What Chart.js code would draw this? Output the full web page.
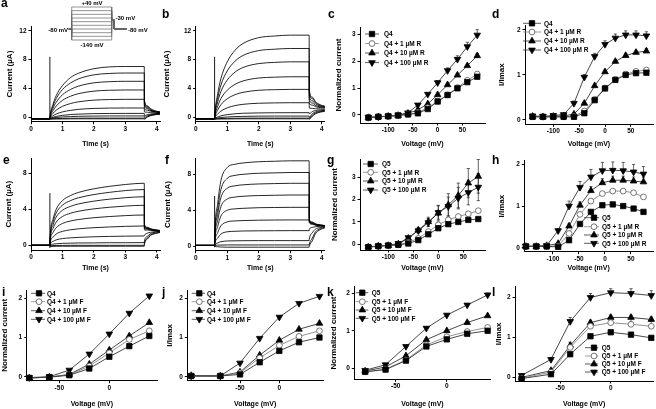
<!DOCTYPE html>
<html>
<head>
<meta charset="utf-8">
<script src="https://cdn.jsdelivr.net/npm/chart.js@4.4.1/dist/chart.umd.min.js"></script>
<style>
  body { margin: 0; width: 656px; height: 409px; position: relative; overflow: hidden; background: #fff;
         font-family: 'Liberation Sans', Arial, sans-serif; }
  canvas { position: absolute; }
  .lab { position: absolute; font-weight: bold; font-size: 12px; line-height: 12px; }
  .pl { position: absolute; font-weight: bold; font-size: 6px; line-height: 6px; white-space: nowrap; }
</style>
</head>
<body>
<script>
// ---- current traces (µA), sampled at these times (s) ----
const tTrace = [0, 0.6, 0.605, 0.7, 0.8, 1.0, 1.25, 1.5, 2.0, 2.5, 3.0, 3.6, 3.605, 3.7, 3.8, 3.95, 4.1];

// a: Q4
const a1 = [-0.2,-0.2,0.1,1.8,3.0,4.4,5.5,6.1,6.75,7.0,7.05,7.05, 2.4,1.6,1.2,0.9,0.75];
const a2 = [-0.2,-0.2,0.05,1.58,2.59,3.86,4.75,5.32,5.9,6.09,6.15,6.15, 2.2,1.5,1.1,0.85,0.72];
const a3 = [-0.2,-0.2,0.01,1.26,2.09,3.13,3.86,4.32,4.79,4.95,5.0,5.0, 1.9,1.35,1.0,0.8,0.7];
const a4 = [-0.2,-0.2,-0.04,0.92,1.56,2.36,2.92,3.28,3.64,3.76,3.8,3.8, 1.6,1.2,0.95,0.78,0.68];
const a5 = [-0.2,-0.2,-0.09,0.56,0.99,1.53,1.91,2.15,2.39,2.47,2.5,2.5, 1.2,1.0,0.85,0.72,0.65];
const a6 = [-0.2,-0.2,-0.14,0.22,0.46,0.76,0.97,1.11,1.24,1.29,1.3,1.3, 0.75,0.72,0.66,0.62,0.6];
const a7 = [-0.2,-0.2,-0.17,0.01,0.13,0.28,0.39,0.45,0.52,0.54,0.55,0.55, 0.25,0.38,0.46,0.52,0.55];
const a8 = [-0.2,-0.2,-0.18,-0.09,-0.02,0.06,0.11,0.15,0.18,0.2,0.2,0.2, 0.0,0.22,0.36,0.45,0.5];
const a9 = [-0.2,-0.2,-0.2,-0.17,-0.16,-0.14,-0.12,-0.11,-0.1,-0.1,-0.1,-0.1, -0.15,0.1,0.28,0.4,0.47];
const a10 = [-0.2,-0.2,-0.25,-0.24,-0.23,-0.22,-0.21,-0.2,-0.2,-0.2,-0.2,-0.2, -0.25,0.05,0.24,0.37,0.44];

// b: Q4 + 100 µM R
const b1 = [-0.2,-0.2,0.26,3.28,5.37,7.69,9.31,10.24,11.05,11.28,11.4,11.4, 3.8,2.8,2.2,1.75,1.55];
const b2 = [-0.2,-0.2,0.19,2.73,4.48,6.43,7.8,8.58,9.26,9.45,9.55,9.55, 3.5,2.6,2.05,1.65,1.5];
const b3 = [-0.2,-0.2,0.12,2.17,3.59,5.17,6.28,6.91,7.46,7.62,7.7,7.7, 3.0,2.3,1.85,1.55,1.45];
const b4 = [-0.2,-0.2,0.03,1.55,2.6,3.76,4.58,5.05,5.46,5.57,5.63,5.63, 2.5,2.0,1.65,1.45,1.38];
const b5 = [-0.2,-0.2,-0.04,1.02,1.76,2.57,3.15,3.47,3.76,3.84,3.88,3.88, 2.0,1.7,1.5,1.35,1.3];
const b6 = [-0.2,-0.2,-0.11,0.47,0.87,1.32,1.63,1.81,1.96,2.01,2.03,2.03, 1.3,1.25,1.2,1.17,1.15];
const b7 = [-0.2,-0.2,-0.17,0.06,0.21,0.38,0.5,0.57,0.62,0.64,0.65,0.65, 0.5,0.8,0.95,1.02,1.05];
const b8 = [-0.2,-0.2,-0.18,-0.09,-0.02,0.06,0.11,0.14,0.17,0.18,0.18,0.18, 0.0,0.5,0.75,0.9,0.97];
const b9 = [-0.2,-0.2,-0.2,-0.17,-0.16,-0.14,-0.12,-0.11,-0.1,-0.1,-0.1,-0.1, -0.15,0.3,0.6,0.8,0.9];
const b10 = [-0.2,-0.2,-0.25,-0.24,-0.23,-0.22,-0.21,-0.2,-0.2,-0.2,-0.2,-0.2, -0.25,0.15,0.5,0.72,0.85];

// e: Q5
const e1 = [0,0,0.69,2.9,4.0,4.97,5.52,5.87,6.28,6.56,6.76,6.9, 2.3,2.0,1.85,1.72,1.65];
const e2 = [0,0,0.62,2.6,3.6,4.46,4.96,5.27,5.64,5.89,6.08,6.2, 2.2,1.95,1.8,1.7,1.64];
const e3 = [0,0,0.54,2.27,3.13,3.89,4.32,4.59,4.91,5.13,5.29,5.4, 2.1,1.9,1.78,1.68,1.63];
const e4 = [0,0,0.45,1.87,2.58,3.2,3.56,3.78,4.05,4.23,4.36,4.45, 2.0,1.85,1.75,1.67,1.62];
const e5 = [0,0,0.34,1.42,1.95,2.43,2.7,2.86,3.07,3.2,3.3,3.37, 1.9,1.8,1.72,1.65,1.61];
const e6 = [0,0,0.22,0.9,1.25,1.55,1.72,1.83,1.96,2.04,2.11,2.15, 1.7,1.7,1.66,1.62,1.6];
const e7 = [0,0,0.1,0.44,0.6,0.75,0.83,0.88,0.95,0.99,1.02,1.04, 1.1,1.35,1.45,1.52,1.56];
const e8 = [0,0,0.03,0.13,0.17,0.22,0.24,0.26,0.27,0.29,0.29,0.3, 0.5,1.0,1.3,1.45,1.52];
const e9 = [0,0,-0.05,-0.03,-0.02,-0.01,0,0,0,0,0,0, 0.2,0.8,1.15,1.36,1.46];
const e10 = [0,0,-0.15,-0.12,-0.11,-0.1,-0.1,-0.1,-0.1,-0.1,-0.1,-0.1, 0.1,0.7,1.1,1.3,1.43];

// f: Q5 + 100 µM R
const f1 = [0.1,0.1,1.05,4.8,7.3,8.75,9.12,9.26,9.4,9.45,9.5,9.5, 3.0,2.7,2.5,2.37,2.3];
const f2 = [0.1,0.1,0.9,4.15,6.3,7.55,7.88,8.0,8.12,8.16,8.2,8.2, 2.9,2.65,2.47,2.36,2.3];
const f3 = [0.1,0.1,0.79,3.55,5.41,6.45,6.72,6.83,6.93,6.97,7.0,7.0, 2.85,2.6,2.45,2.35,2.29];
const f4 = [0.1,0.1,0.66,2.9,4.41,5.25,5.47,5.56,5.64,5.67,5.7,5.7, 2.8,2.55,2.42,2.32,2.28];
const f5 = [0.1,0.1,0.52,2.22,3.36,4.0,4.16,4.22,4.29,4.31,4.33,4.33, 2.7,2.5,2.38,2.3,2.26];
const f6 = [0.1,0.1,0.37,1.52,2.28,2.71,2.82,2.86,2.9,2.92,2.93,2.93, 2.6,2.45,2.35,2.28,2.25];
const f7 = [0.1,0.1,0.26,0.92,1.36,1.61,1.67,1.7,1.72,1.73,1.74,1.74, 1.9,2.1,2.18,2.22,2.22];
const f8 = [0.1,0.1,0.15,0.37,0.51,0.59,0.61,0.62,0.63,0.63,0.63,0.63, 0.8,1.5,1.9,2.08,2.15];
const f9 = [0.1,0.1,0.1,0.13,0.14,0.15,0.15,0.15,0.15,0.15,0.15,0.15, 0.25,0.9,1.6,1.95,2.1];
const f10 = [0.1,0.1,0.0,-0.05,-0.08,-0.1,-0.1,-0.1,-0.1,-0.1,-0.1,-0.1, 0.0,0.6,1.4,1.85,2.05];

// capacitive transients at the step (time, current)
const spikeT = [0.6, 0.6];
const spikeA = [-0.3, 8.4];
const spikeB = [-0.3, 8.4];
const spikeE = [-0.3, 5.8];
const spikeF = [-0.1, 5.6];

// voltage protocol (inset): times (s) and step levels (mV)
const protoT = [0.37, 0.6, 0.6, 3.6, 3.6, 3.77, 3.77, 4.73];
const protoLevels = [-140, -120, -100, -80, -60, -40, -20, 0, 20, 40];
const protoHold = -80, protoTail = -30;

// ---- I-V data ----
const vQ4R = [-140,-120,-100,-80,-60,-40,-20,0,20,40,60,80];
const cQ4 = [-0.1,-0.07,-0.05,-0.02,0.02,0.06,0.22,0.5,0.74,0.99,1.22,1.42];
const cR1 = [-0.1,-0.07,-0.05,-0.02,0.02,0.09,0.27,0.51,0.75,1.02,1.29,1.52];
const cR10 = [-0.1,-0.07,-0.05,-0.02,0.06,0.19,0.41,0.75,1.12,1.48,1.83,2.2];
const cR100 = [-0.09,-0.07,-0.04,0,0.08,0.37,0.77,1.2,1.65,2.07,2.54,2.97];
const cR10Err = [0,0,0,0,0,0,0.03,0.04,0.05,0.06,0.06,0.08];
const cR100Err = [0,0,0,0,0,0.03,0.05,0.08,0.1,0.13,0.16,0.2];

const dQ4 = [0.07,0.07,0.07,0.07,0.07,0.15,0.44,0.7,0.89,1.0,1.04,1.05];
const dR1 = [0.07,0.07,0.07,0.07,0.08,0.2,0.46,0.71,0.9,1.02,1.08,1.11];
const dR10 = [0.08,0.07,0.08,0.09,0.13,0.37,0.76,1.07,1.3,1.43,1.5,1.53];
const dR100 = [0.09,0.08,0.1,0.12,0.37,0.95,1.41,1.68,1.82,1.89,1.89,1.87];
const dR10Err = [0,0,0,0,0,0.03,0.03,0.04,0.04,0.05,0.05,0.06];
const dR100Err = [0,0,0,0.03,0.05,0.06,0.07,0.08,0.09,0.09,0.09,0.09];

const vQ5R = [-140,-120,-100,-80,-60,-40,-20,0,20,40,60,80];
const gQ5 = [-0.12,-0.08,-0.05,-0.02,0.04,0.19,0.45,0.72,0.9,1.0,1.09,1.13];
const gR1 = [-0.12,-0.08,-0.05,-0.02,0.09,0.27,0.57,0.87,1.09,1.24,1.36,1.5];
const gR10 = [-0.12,-0.07,-0.05,0.02,0.27,0.64,1.01,1.39,1.76,2.18,2.73,3.03];
const gR100 = [-0.12,-0.07,-0.04,0.04,0.3,0.61,0.97,1.42,1.69,2.06,2.31,2.55];
const gR1Err = [0,0,0,0,0.03,0.04,0.05,0.06,0.06,0.07,0.07,0.08];
const gR10Err = [0.02,0.02,0.02,0.03,0.06,0.1,0.2,0.35,0.5,0.55,0.65,0.75];
const gR100Err = [0.02,0.02,0.02,0.03,0.05,0.1,0.18,0.3,0.42,0.48,0.55,0.6];

const vH = [-152,-132,-112,-90,-69,-48,-27,-5,15,35,55,74];
const hQ5 = [0.03,0.03,0.03,0.02,0.18,0.57,0.86,1.02,1.04,1.0,0.94,0.86];
const hR1 = [0.03,0.03,0.04,0.04,0.34,0.8,1.12,1.3,1.36,1.36,1.32,1.22];
const hR10 = [0.03,0.03,0.05,0.1,0.52,1.02,1.37,1.56,1.62,1.62,1.6,1.58];
const hR100 = [0.04,0.04,0.05,0.41,1.0,1.45,1.7,1.85,1.86,1.85,1.82,1.77];
const hR10Err = [0,0,0,0,0.05,0.08,0.1,0.1,0.1,0.1,0.1,0.1];
const hR100Err = [0,0,0,0.05,0.12,0.14,0.18,0.2,0.2,0.2,0.18,0.18];

const vF = [-80,-60,-40,-20,0,20,40];
const iQ4 = [-0.03,-0.01,0.04,0.21,0.51,0.78,1.04];
const iF1 = [-0.03,-0.01,0.05,0.27,0.61,0.95,1.17];
const iF10 = [-0.03,-0.01,0.06,0.32,0.68,1.04,1.38];
const iF100 = [-0.02,0.0,0.17,0.58,1.09,1.62,2.06];

const vJ = [-112,-75,-50,-25,0,25,51];
const jQ4 = [0.02,0.02,0.06,0.37,0.66,0.88,1.0];
const jF1 = [0.02,0.02,0.1,0.48,0.8,1.03,1.17];
const jF10 = [0.03,0.02,0.12,0.55,0.93,1.21,1.36];
const jF100 = [0.02,0.02,0.35,0.98,1.52,1.87,2.05];

const kQ5 = [-0.1,-0.04,0.2,0.58,0.77,0.92,1.0];
const kF1 = [-0.1,-0.03,0.22,0.62,0.84,0.98,1.09];
const kF10 = [-0.08,0.03,0.33,0.76,1.0,1.22,1.4];
const kF100 = [-0.06,0.09,0.58,1.07,1.42,1.69,1.96];
const kF100Err = [0,0,0,0.03,0.03,0.04,0.05];

const vL = [-88,-59,-40,-20,0,20,40];
const lQ5 = [-0.03,0.08,0.58,1.03,1.13,1.07,0.99];
const lF1 = [-0.02,0.13,0.75,1.28,1.37,1.33,1.28];
const lF10 = [0.0,0.17,0.8,1.37,1.5,1.5,1.45];
const lF100 = [0.05,0.45,1.4,2.0,2.12,2.1,2.05];
const lF1Err = [0.02,0.03,0.06,0.1,0.15,0.15,0.12];
const lF10Err = [0.02,0.04,0.08,0.06,0.06,0.06,0.06];
const lF100Err = [0.03,0.05,0.1,0.1,0.1,0.12,0.12];

// legend texts and tick values
const legQ4R = ['Q4', 'Q4 + 1 µM R', 'Q4 + 10 µM R', 'Q4 + 100 µM R'];
const legQ5R = ['Q5', 'Q5 + 1 µM R', 'Q5 + 10 µM R', 'Q5 + 100 µM R'];
const legQ4F = ['Q4', 'Q4 + 1 µM F', 'Q4 + 10 µM F', 'Q4 + 100 µM F'];
const legQ5F = ['Q5', 'Q5 + 1 µM F', 'Q5 + 10 µM F', 'Q5 + 100 µM F'];
const tickTime = [0, 1, 2, 3, 4];
const tickCurAB = [0, 4, 8, 12];
const tickCurEF = [0, 4, 8];
const tickV = [-100, -50, 0, 50];
const tickVF = [-50, 0];
const tickNorm3 = [0, 1, 2, 3];
const tickNorm2 = [0, 1, 2];

const FF = "'Liberation Sans', Arial, Helvetica, sans-serif";

// marker looks for control, 1, 10, 100 µM
const MARK = [
  { style: 'rect', r: 3.8, rot: 0, bg: '#000', bc: '#000', line: '#333' },
  { style: 'circle', r: 2.9, rot: 0, bg: '#fff', bc: '#555', line: '#888' },
  { style: 'triangle', r: 3.8, rot: 0, bg: '#000', bc: '#000', line: '#333' },
  { style: 'triangle', r: 3.8, rot: 180, bg: '#000', bc: '#000', line: '#333' }
];

function marker(ctx, st, x, y) {
  ctx.beginPath();
  if (st.style === 'rect') {
    const s = st.r * Math.SQRT1_2;
    ctx.rect(x - s, y - s, 2 * s, 2 * s);
  } else if (st.style === 'circle') {
    ctx.arc(x, y, st.r, 0, Math.PI * 2);
  } else {
    const d = st.rot ? -1 : 1;
    ctx.moveTo(x, y - d * st.r);
    ctx.lineTo(x - st.r * 0.866, y + d * st.r / 2);
    ctx.lineTo(x + st.r * 0.866, y + d * st.r / 2);
    ctx.closePath();
  }
  ctx.fillStyle = st.bg; ctx.fill();
  ctx.strokeStyle = st.bc; ctx.lineWidth = 0.8; ctx.stroke();
}

const boxLegend = {
  id: 'boxLegend',
  afterDatasetsDraw(chart, args, o) {
    if (!o || !o.rows) return;
    const ctx = chart.ctx;
    o.labels.forEach((txt, i) => {
      const y = o.rows[i];
      const st = MARK[i];
      ctx.save();
      ctx.strokeStyle = st.line; ctx.lineWidth = 0.8;
      ctx.beginPath(); ctx.moveTo(o.x0, y); ctx.lineTo(o.x1, y); ctx.stroke();
      marker(ctx, st, o.mx, y);
      ctx.fillStyle = '#000';
      ctx.font = 'bold 6.5px ' + FF;
      ctx.textBaseline = 'middle';
      ctx.fillText(txt, o.tx, y + 0.5);
      ctx.restore();
    });
  }
};

const errBars = {
  id: 'errBars',
  beforeDatasetsDraw(chart, args, o) {
    const ctx = chart.ctx, ys = chart.scales.y;
    chart.data.datasets.forEach((ds, i) => {
      if (!ds.errs) return;
      const meta = chart.getDatasetMeta(i);
      ctx.save();
      ctx.strokeStyle = '#222'; ctx.lineWidth = 0.7;
      meta.data.forEach((pt, j) => {
        const e = ds.errs[j];
        if (!e) return;
        const v = ds.data[j].y;
        const yt = ys.getPixelForValue(v + e);
        const yb = ys.getPixelForValue(v - (o && o.both ? e : 0));
        ctx.beginPath();
        ctx.moveTo(pt.x, yb); ctx.lineTo(pt.x, yt);
        ctx.moveTo(pt.x - 1.6, yt); ctx.lineTo(pt.x + 1.6, yt);
        if (o && o.both) { ctx.moveTo(pt.x - 1.6, yb); ctx.lineTo(pt.x + 1.6, yb); }
        ctx.stroke();
      });
      ctx.restore();
    });
  }
};

function addCanvas(left, top, w, h) {
  const c = document.createElement('canvas');
  c.width = w; c.height = h;
  c.style.left = left + 'px'; c.style.top = top + 'px';
  c.style.width = w + 'px'; c.style.height = h + 'px';
  document.body.appendChild(c);
  return c;
}

function addText(cls, txt, left, top, align) {
  const d = document.createElement('div');
  d.className = cls; d.textContent = txt;
  d.style.left = left + 'px'; d.style.top = top + 'px';
  if (align === 'right') d.style.transform = 'translateX(-100%)';
  if (align === 'center') d.style.transform = 'translateX(-50%)';
  document.body.appendChild(d);
}

function ivSets(xs, series, errs) {
  return series.map((ys, i) => {
    const st = MARK[i];
    return {
      data: xs.map((x, k) => ({ x: x, y: ys[k] })),
      errs: errs ? errs[i] : null,
      borderColor: st.line, borderWidth: 0.9,
      pointStyle: st.style, pointRotation: st.rot, pointRadius: st.r,
      pointBackgroundColor: st.bg, pointBorderColor: st.bc, pointBorderWidth: 0.8,
      clip: false
    };
  });
}

function traceSets(traces, spike) {
  const sets = traces.map(tr => ({
    data: tTrace.map((t, k) => ({ x: t, y: tr[k] })),
    borderColor: '#000', borderWidth: 0.85, pointRadius: 0,
    cubicInterpolationMode: 'monotone'
  }));
  sets.push({
    data: spikeT.map((t, k) => ({ x: t, y: spike[k] })),
    borderColor: '#000', borderWidth: 0.9, pointRadius: 0
  });
  return sets;
}

const YLH = 8 * 1.2, XLH = 7 * 1.2;

function panel(cfg, datasets, legend, errBoth) {
  const cl = Math.floor(cfg.yTitleX - YLH / 2);
  const ct = Math.floor(cfg.t - 6);
  const cr = Math.ceil(cfg.r + 6);
  const cb = Math.ceil(cfg.xTitleY + XLH / 2);
  const cv = addCanvas(cl, ct, cr - cl, cb - ct);
  const yw = cfg.l - cl, xh = cb - cfg.b;
  const tickFont = { family: FF, size: 6.5, weight: 'bold' };
  const grid = { drawOnChartArea: false, drawTicks: true, tickLength: 2.5, color: '#000', lineWidth: 1 };
  const border = { display: true, color: '#000', width: 1 };
  let leg = false;
  if (legend) {
    leg = {
      labels: legend.labels,
      rows: legend.rows.map(y => y - ct),
      x0: legend.x0 - cl, x1: legend.x1 - cl, mx: legend.mx - cl, tx: legend.tx - cl
    };
  }
  new Chart(cv, {
    type: 'line',
    data: { datasets: datasets },
    options: {
      responsive: false, animation: false, devicePixelRatio: 1,
      layout: { autoPadding: false, padding: { top: cfg.t - ct, right: cr - cfg.r, left: 0, bottom: 0 } },
      plugins: {
        legend: { display: false }, tooltip: { enabled: false },
        boxLegend: leg, errBars: { both: !!errBoth }
      },
      scales: {
        x: {
          type: 'linear', min: cfg.xr[0], max: cfg.xr[1],
          afterFit: s => { s.height = xh; },
          afterBuildTicks: s => { s.ticks = cfg.xt.map(v => ({ value: v })); },
          ticks: { font: tickFont, color: '#000', padding: 1, autoSkip: false, maxRotation: 0, callback: v => String(v) },
          grid: grid, border: border,
          title: { display: true, text: cfg.xTitle, color: '#000', font: { family: FF, size: 7, weight: 'bold' },
                   padding: { top: 0, bottom: cb - cfg.xTitleY - XLH / 2 } }
        },
        y: {
          type: 'linear', min: cfg.yr[0], max: cfg.yr[1],
          afterFit: s => { s.width = yw; },
          afterBuildTicks: s => { s.ticks = cfg.yt.map(v => ({ value: v })); },
          ticks: { font: tickFont, color: '#000', padding: 2, autoSkip: false, callback: v => String(v) },
          grid: grid, border: border,
          title: { display: true, text: cfg.yTitle, color: '#000', font: { family: FF, size: 8, weight: 'bold' },
                   padding: { top: cfg.yTitleX - cl - YLH / 2, bottom: 0 } }
        }
      }
    },
    plugins: [boxLegend, errBars]
  });
}

// ---- panels ----
const cur = 'Current (µA)', tim = 'Time (s)', vol = 'Voltage (mV)', nrm = 'Normalized current', imx = 'I/Imax';

panel({ l: 31, t: 26.5, r: 160, b: 121.7, xr: [0, 4.1], yr: [-0.6, 12.6], xt: tickTime, yt: tickCurAB,
        yTitle: cur, yTitleX: 10, xTitle: tim, xTitleY: 144 },
      traceSets([a1, a2, a3, a4, a5, a6, a7, a8, a9, a10], spikeA));
panel({ l: 195.7, t: 26.5, r: 324.9, b: 121.7, xr: [0, 4.1], yr: [-0.6, 12.6], xt: tickTime, yt: tickCurAB,
        yTitle: cur, yTitleX: 166.7, xTitle: tim, xTitleY: 144 },
      traceSets([b1, b2, b3, b4, b5, b6, b7, b8, b9, b10], spikeB));
panel({ l: 360, t: 27, r: 485, b: 123, xr: [-157, 95.7], yr: [-0.3, 3.27], xt: tickV, yt: tickNorm3,
        yTitle: nrm, yTitleX: 338.3, xTitle: vol, xTitleY: 144 },
      ivSets(vQ4R, [cQ4, cR1, cR10, cR100], [null, null, cR10Err, cR100Err]),
      { labels: legQ4R, rows: [34, 43.5, 53, 62.6], x0: 365, x1: 379, mx: 372, tx: 384 });
panel({ l: 525, t: 25, r: 653, b: 124.3, xr: [-154.7, 92.8], yr: [-0.096, 2.11], xt: tickV, yt: tickNorm2,
        yTitle: imx, yTitleX: 501.7, xTitle: vol, xTitleY: 144 },
      ivSets(vQ4R, [dQ4, dR1, dR10, dR100], [null, null, dR10Err, dR100Err]),
      { labels: legQ4R, rows: [23.3, 32, 41, 50], x0: 523, x1: 541, mx: 532, tx: 544 });

panel({ l: 31, t: 158.3, r: 160, b: 250, xr: [0, 4.1], yr: [-0.52, 9.67], xt: tickTime, yt: tickCurEF,
        yTitle: cur, yTitleX: 8.3, xTitle: tim, xTitleY: 268 },
      traceSets([e1, e2, e3, e4, e5, e6, e7, e8, e9, e10], spikeE));
panel({ l: 195.7, t: 158.3, r: 324.9, b: 250.7, xr: [0, 4.1], yr: [-0.49, 9.78], xt: tickTime, yt: tickCurEF,
        yTitle: cur, yTitleX: 167.3, xTitle: tim, xTitleY: 268 },
      traceSets([f1, f2, f3, f4, f5, f6, f7, f8, f9, f10], spikeF));
panel({ l: 360, t: 159.3, r: 485, b: 250, xr: [-156.6, 93.4], yr: [-0.25, 3.79], xt: tickV, yt: tickNorm3,
        yTitle: nrm, yTitleX: 335, xTitle: vol, xTitleY: 268 },
      ivSets(vQ5R, [gQ5, gR1, gR10, gR100], [null, gR1Err, gR10Err, gR100Err]),
      { labels: legQ5R, rows: [164, 172.3, 181, 190], x0: 363, x1: 378, mx: 370.7, tx: 382 }, true);
panel({ l: 524.3, t: 160.7, r: 653, b: 251.7, xr: [-155, 92.3], yr: [-0.096, 2.09], xt: tickV, yt: tickNorm2,
        yTitle: imx, yTitleX: 501.7, xTitle: vol, xTitleY: 268 },
      ivSets(vH, [hQ5, hR1, hR10, hR100], [null, null, hR10Err, hR100Err]),
      { labels: legQ5R, rows: [217.7, 226.7, 235, 243.3], x0: 584, x1: 599, mx: 594, tx: 602 });

panel({ l: 26.7, t: 290, r: 157, b: 380.7, xr: [-82.6, 47.7], yr: [-0.1, 2.21], xt: tickVF, yt: tickNorm2,
        yTitle: nrm, yTitleX: 5, xTitle: vol, xTitleY: 404.3 },
      ivSets(vF, [iQ4, iF1, iF10, iF100]),
      { labels: legQ4F, rows: [293.3, 301.7, 310.7, 319.3], x0: 31, x1: 45, mx: 39, tx: 47 });
panel({ l: 187.3, t: 290, r: 323, b: 380.7, xr: [-117, 55.5], yr: [-0.1, 2.21], xt: tickVF, yt: tickNorm2,
        yTitle: imx, yTitleX: 170, xTitle: vol, xTitleY: 404.3 },
      ivSets(vJ, [jQ4, jF1, jF10, jF100]),
      { labels: legQ4F, rows: [293.3, 301.7, 310.7, 319.3], x0: 191.7, x1: 205, mx: 199.3, tx: 207 });
panel({ l: 354.3, t: 286.7, r: 490.7, b: 379.3, xr: [-90.6, 43], yr: [-0.3, 2.18], xt: tickVF, yt: tickNorm2,
        yTitle: nrm, yTitleX: 333.3, xTitle: vol, xTitleY: 404.3 },
      ivSets(vF, [kQ5, kF1, kF10, kF100], [null, null, null, kF100Err]),
      { labels: legQ5F, rows: [292.7, 301.7, 310, 318.3], x0: 355.7, x1: 368.3, mx: 362.3, tx: 371.7 });
panel({ l: 515, t: 286.7, r: 653.3, b: 381, xr: [-94.5, 42], yr: [-0.09, 2.27], xt: tickVF, yt: tickNorm2,
        yTitle: imx, yTitleX: 498.3, xTitle: vol, xTitleY: 404.3 },
      ivSets(vL, [lQ5, lF1, lF10, lF100], [null, lF1Err, lF10Err, lF100Err]),
      { labels: legQ5F, rows: [347.7, 356, 364, 372], x0: 585, x1: 598.3, mx: 594, tx: 601.7 });

// ---- voltage protocol inset ----
(function () {
  const cv = addCanvas(40, 0, 110, 50);
  const sets = protoLevels.map(v => ({
    data: protoT.map((t, k) => ({ x: t, y: [protoHold, protoHold, v, v, protoTail, protoTail, protoHold, protoHold][k] })),
    borderColor: '#666', borderWidth: 0.7, pointRadius: 0
  }));
  new Chart(cv, {
    type: 'line',
    data: { datasets: sets },
    options: {
      responsive: false, animation: false, devicePixelRatio: 1,
      layout: { autoPadding: false, padding: 0 },
      plugins: { legend: { display: false }, tooltip: { enabled: false } },
      scales: {
        x: { type: 'linear', display: false, min: -1.778, max: 6.47 },
        y: { type: 'linear', display: false, min: -194.5, max: 78.2 }
      }
    }
  });
  addText('pl', '+40 mV', 92, 0, 'center');
  addText('pl', '-140 mV', 92, 42, 'center');
  addText('pl', '-80 mV', 68, 26.5, 'right');
  addText('pl', '-30 mV', 115.5, 14.5);
  addText('pl', '-80 mV', 128, 27);
})();

// panel letters
[['a', 1, -3.5], ['b', 162, 7.5], ['c', 328, 7.5], ['d', 492, 7.5],
 ['e', 3, 154], ['f', 165, 154], ['g', 327, 154], ['h', 492, 154],
 ['i', 2, 286], ['j', 162, 286], ['k', 327, 286], ['l', 492, 286]]
  .forEach(p => addText('lab', p[0], p[1], p[2]));
</script>
</body>
</html>
